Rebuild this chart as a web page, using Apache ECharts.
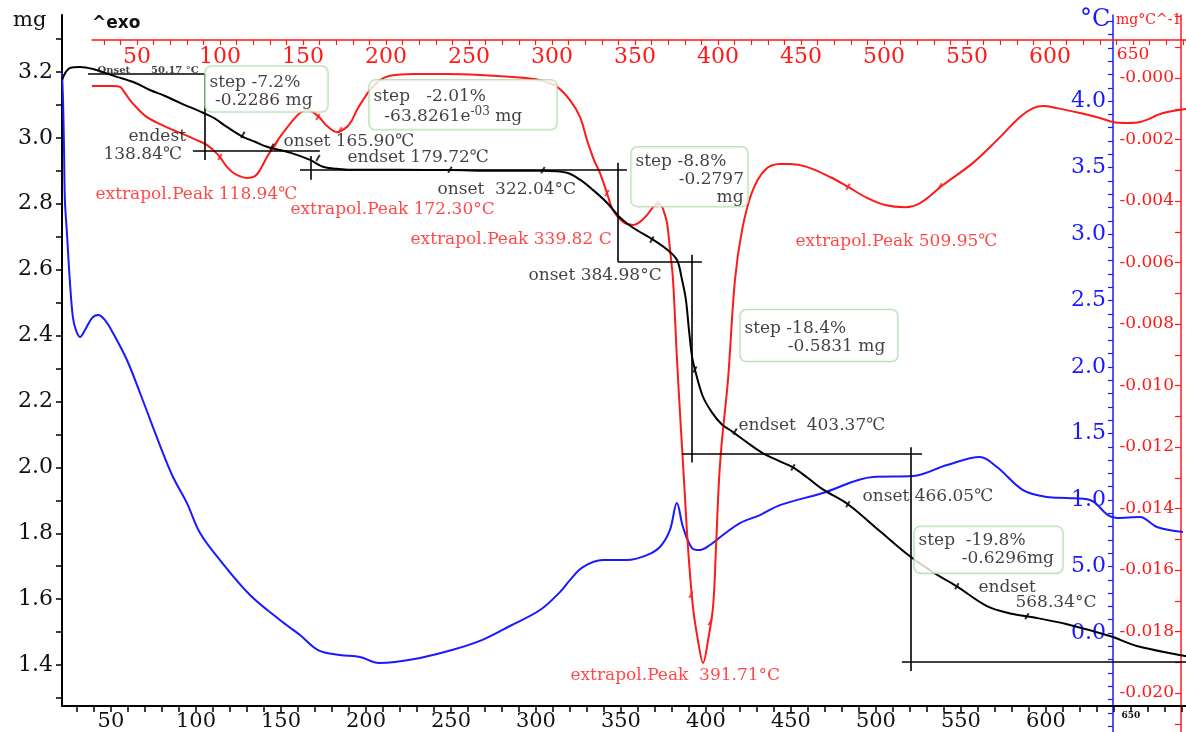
<!DOCTYPE html>
<html><head><meta charset="utf-8">
<script src="https://cdn.jsdelivr.net/npm/echarts@6/dist/echarts.min.js"></script>
<style>html,body{margin:0;padding:0;background:#fff}#c{width:1186px;height:732px}</style>
</head><body><div id="c"></div>
<script>
// ---------- DATA ----------
// TG curve: [temperature °C (bottom axis), mass mg]
const tgCurve = [[21.2,3.176],[23.5,3.200],[25.9,3.212],[31.8,3.215],[39.4,3.209],[46.5,3.197],[53.5,3.185],[64.1,3.167],[72.9,3.145],[81.8,3.127],[90.6,3.106],[104.1,3.076],[111.2,3.058],[118.2,3.033],[127.6,3.003],[134.7,2.988],[141.8,2.973],[155.3,2.955],[167.1,2.933],[174.7,2.912],[183.0,2.906],[190.6,2.903],[220.0,2.903],[249.4,2.902],[278.8,2.900],[304.1,2.900],[318.2,2.894],[325.9,2.873],[333.5,2.842],[341.8,2.803],[349.4,2.758],[357.1,2.727],[368.8,2.691],[377.1,2.661],[382.9,2.630],[385.9,2.570],[388.2,2.509],[390.0,2.418],[391.8,2.336],[393.5,2.297],[398.2,2.215],[403.5,2.167],[409.4,2.130],[415.3,2.109],[424.1,2.076],[432.9,2.045],[443.5,2.018],[451.2,2.000],[459.4,1.970],[468.8,1.933],[483.5,1.888],[502.4,1.806],[520.0,1.730],[533.5,1.682],[547.6,1.639],[565.3,1.579],[580.6,1.555],[592.4,1.545],[612.4,1.524],[637.6,1.488],[653.5,1.458],[682.4,1.427]];
// DTG curve: [temperature °C (top axis), mg/°C]
const dtgCurve = [[22.9,-0.00026],[35.5,-0.00026],[39.8,-0.00029],[42.8,-0.00049],[45.8,-0.00072],[50.6,-0.00101],[56.0,-0.00127],[63.9,-0.00150],[71.7,-0.00169],[78.9,-0.00185],[86.1,-0.00202],[92.2,-0.00218],[95.8,-0.00234],[100.0,-0.00257],[104.2,-0.00289],[109.0,-0.00312],[116.3,-0.00325],[121.1,-0.00319],[124.1,-0.00299],[128.3,-0.00257],[132.5,-0.00221],[136.1,-0.00192],[144.0,-0.00137],[148.2,-0.00114],[152.4,-0.00104],[156.0,-0.00111],[160.2,-0.00130],[164.5,-0.00156],[170.5,-0.00176],[176.5,-0.00159],[179.5,-0.00137],[182.5,-0.00104],[186.1,-0.00072],[190.4,-0.00039],[196.4,-0.00007],[202.4,0.00007],[216.3,0.00013],[236.7,0.00013],[256.6,0.00010],[276.5,0.00003],[292.8,-0.00007],[303.0,-0.00029],[310.8,-0.00072],[316.9,-0.00127],[321.1,-0.00202],[325.3,-0.00267],[328.9,-0.00309],[333.1,-0.00374],[336.7,-0.00429],[342.8,-0.00468],[348.8,-0.00478],[353.0,-0.00468],[357.2,-0.00446],[360.8,-0.00420],[363.3,-0.00410],[365.7,-0.00413],[367.5,-0.00436],[369.3,-0.00472],[371.1,-0.00559],[372.9,-0.00657],[375.3,-0.00917],[377.7,-0.01145],[379.5,-0.01307],[381.9,-0.01525],[384.9,-0.01720],[387.9,-0.01828],[391.0,-0.01902],[394.0,-0.01828],[397.0,-0.01720],[398.8,-0.01525],[400.6,-0.01307],[402.4,-0.01177],[406.0,-0.00982],[410.2,-0.00657],[414.5,-0.00494],[420.5,-0.00371],[428.3,-0.00299],[437.3,-0.00280],[443.4,-0.00280],[453.6,-0.00289],[467.5,-0.00322],[478.3,-0.00354],[489.8,-0.00390],[500.6,-0.00413],[512.7,-0.00420],[521.7,-0.00407],[535.5,-0.00348],[553.6,-0.00276],[568.1,-0.00202],[581.9,-0.00127],[589.8,-0.00098],[595.8,-0.00091],[604.2,-0.00098],[618.1,-0.00114],[630.1,-0.00130],[638.0,-0.00143],[646.4,-0.00146],[654.2,-0.00143],[668.1,-0.00114],[681.9,-0.00101]];
// Blue curve: [temperature °C (bottom axis), °C]
const blueCurve = [[21.2,4.211],[21.8,4.008],[22.4,3.632],[22.9,3.256],[24.1,3.008],[25.9,2.632],[27.6,2.376],[29.4,2.278],[31.8,2.226],[34.7,2.278],[38.8,2.368],[42.4,2.391],[46.5,2.353],[51.2,2.256],[59.4,2.053],[67.1,1.805],[74.7,1.549],[80.6,1.353],[86.5,1.173],[94.7,0.977],[102.4,0.752],[114.1,0.549],[131.8,0.286],[149.4,0.098],[161.2,-0.015],[171.8,-0.128],[184.7,-0.165],[196.5,-0.180],[207.6,-0.226],[217.1,-0.218],[231.8,-0.188],[250.6,-0.128],[268.2,-0.053],[284.7,0.053],[302.4,0.173],[314.1,0.308],[320.0,0.398],[327.6,0.496],[339.4,0.549],[353.5,0.549],[365.3,0.586],[372.9,0.647],[378.8,0.774],[382.9,0.977],[386.5,0.797],[391.8,0.639],[396.5,0.624],[402.4,0.662],[410.0,0.737],[420.0,0.827],[431.8,0.887],[443.5,0.962],[468.8,1.053],[498.2,1.173],[521.8,1.180],[541.8,1.263],[561.2,1.323],[571.2,1.248],[586.5,1.075],[600.6,1.023],[612.4,1.015],[625.9,1.000],[636.5,0.887],[641.8,0.865],[655.3,0.872],[665.3,0.797],[680.6,0.759]];
// Evaluation tick marks drawn on the curves
const tgMarks = [[127.6,3.009],[144.7,2.973],[171.8,2.939],[249.4,2.903],[304.1,2.902],[368.2,2.691],[393.5,2.297],[417.1,2.109],[451.2,2.000],[483.5,1.888],[547.6,1.639],[588.8,1.548]];
const dtgMarks = [[100.0,-0.00257],[133.7,-0.00215],[159.0,-0.00127],[172.3,-0.00170],[333.1,-0.00374],[363.3,-0.00410],[383.7,-0.01680],[395.2,-0.01770],[478.3,-0.00354],[533.7,-0.00352]];
// Step evaluation construction lines: [[T1,mg1],[T2,mg2]]
const stepLines = [
  [[36.5,3.194],[105.3,3.194]],
  [[105.3,3.194],[105.3,2.933]],
  [[98.2,2.961],[172.9,2.961]],
  [[167.6,2.945],[167.6,2.873]],
  [[161.2,2.903],[353.5,2.903]],
  [[348.2,2.924],[348.2,2.624]],
  [[348.2,2.624],[397.6,2.624]],
  [[391.8,2.645],[391.8,2.015]],
  [[385.9,2.042],[527.1,2.042]],
  [[520.6,2.061],[520.6,1.382]],
  [[515.3,1.409],[682.4,1.409]]
];
// Annotations anchored at [T, mg]
const blackNotes = [
  [60.0,3.003,'endest'],[45.3,2.948,'138.84℃'],[151.2,2.988,'onset 165.90℃'],
  [188.8,2.939,'endset 179.72℃'],[241.8,2.842,'onset  322.04°C'],[295.3,2.582,'onset 384.98°C'],
  [418.8,2.127,'endset  403.37℃'],[491.8,1.912,'onset 466.05℃'],[560.0,1.636,'endset'],[581.8,1.591,'568.34°C']
];
const smallNotes = [[41.8,3.206,'Onset      50.17 °C']];
const peakNotes = [
  [40.6,2.827,'extrapol.Peak 118.94℃'],[155.3,2.782,'extrapol.Peak 172.30°C'],
  [225.9,2.691,'extrapol.Peak 339.82 C'],[452.4,2.685,'extrapol.Peak 509.95℃'],
  [320.0,1.367,'extrapol.Peak  391.71°C']
];
const stepBoxes = [
  [105.9,3.215,'step -7.2%\n -0.2286 mg'],
  [202.4,3.173,'{t|step   -2.01%}\n{t|  -63.8261e}{sup|-03}{t| mg}'],
  [356.5,2.970,'step -8.8%\n        -0.2797\n               mg'],
  [420.6,2.476,'step -18.4%\n        -0.5831 mg'],
  [523.0,1.818,'step  -19.8%\n        -0.6296mg']
];
// Tick labels
const massTickLabels = ['1.4','1.6','1.8','2.0','2.2','2.4','2.6','2.8','3.0','3.2'];
const tempTickLabels = ['50','100','150','200','250','300','350','400','450','500','550','600','650'];
const blueTickValues = [0,0.5,1,1.5,2,2.5,3,3.5,4];
const blueTickLabels = ['0.0','5.0','1.0','1.5','2.0','2.5','3.0','3.5','4.0'];
const dtgTickValues = [0,-0.002,-0.004,-0.006,-0.008,-0.010,-0.012,-0.014,-0.016,-0.018,-0.020];
const dtgTickLabels = ['-0.000','-0.002','-0.004','-0.006','-0.008','-0.010','-0.012','-0.014','-0.016','-0.018','-0.020'];

// ---------- STYLE / LAYOUT ----------
const SERIF = 'DejaVu Serif';
const RED = '#ff1a1a', BLUE = '#1a1aff', BLACK = '#111';
// [content width, content height, padding top, padding bottom]
const boxStyles = [[114,36,7,2],[179,40,6,3],[108,54,5,0],[149,36,10,5],[140,36,5,5]];

function tempFmt(){
  return v => {
    const r = Math.round(v);
    if (Math.abs(v - r) > 1e-6) return '';
    const s = String(r);
    if (tempTickLabels.indexOf(s) < 0) return '';
    return s === '650' ? '{s|650}' : s;
  };
}
function lookup(vals, labels){
  return v => { const i = vals.findIndex(t => Math.abs(t - v) < 1e-9); return i < 0 ? '' : labels[i]; };
}

const chart = echarts.init(document.getElementById('c'), null, {renderer:'canvas'});
chart.setOption({
  animation:false,
  backgroundColor:'#fff',
  title:[
    {text:'mg', left:13, top:10, padding:0, textStyle:{fontFamily:SERIF, fontSize:21, fontWeight:'normal', color:BLACK}},
    {text:'^exo', left:92, top:15, padding:0, textStyle:{fontFamily:'DejaVu Sans', fontSize:17, fontWeight:'bold', color:BLACK}},
    {text:'°C', left:1080, top:8, padding:0, textStyle:{fontFamily:SERIF, fontSize:24, fontWeight:'normal', color:BLUE}},
    {text:'mg°C^-1', left:1116, top:13, padding:0, textStyle:{fontFamily:SERIF, fontSize:14, fontWeight:'normal', color:RED}}
  ],
  grid:[
    {left:62, right:0, top:15, bottom:25},
    {left:62, right:0, top:15, bottom:0},
    {left:92, right:0, top:15, bottom:0}
  ],
  xAxis:[
    {gridIndex:0, type:'value', position:'bottom', min:21.2, max:682.4, minInterval:10, maxInterval:10,
     axisLine:{onZero:false, lineStyle:{color:'#000', width:2}}, axisTick:{length:6, lineStyle:{color:'#000', width:1.5}},
     splitLine:{show:false},
     axisLabel:{interval:0, margin:5, formatter:tempFmt(), fontFamily:SERIF, fontSize:21, color:BLACK,
       showMinLabel:false, showMaxLabel:false, rich:{s:{fontFamily:SERIF, fontSize:9, fontWeight:'bold', color:BLACK}}}},
    {gridIndex:1, type:'value', show:false, min:21.2, max:682.4, axisLine:{onZero:false}},
    {gridIndex:2, type:'value', position:'top', offset:-25, min:22.9, max:681.9, minInterval:10, maxInterval:10,
     axisLine:{onZero:false, lineStyle:{color:RED, width:1.5}}, axisTick:{inside:true, length:5, lineStyle:{color:RED, width:1.2}},
     splitLine:{show:false},
     axisLabel:{inside:true, interval:0, margin:6, formatter:tempFmt(), fontFamily:SERIF, fontSize:22, color:RED,
       showMinLabel:false, showMaxLabel:false, rich:{s:{fontFamily:SERIF, fontSize:17, color:RED}}}}
  ],
  yAxis:[
    {gridIndex:0, type:'value', position:'left', min:1.2758, max:3.3727, minInterval:0.1, maxInterval:0.1,
     axisLine:{show:true, onZero:false, lineStyle:{color:'#000', width:2}}, axisTick:{show:true, length:6, lineStyle:{color:'#000', width:1.5}},
     splitLine:{show:false},
     axisLabel:{interval:0, margin:9, showMinLabel:false, showMaxLabel:false, fontFamily:SERIF, fontSize:22, color:BLACK,
       formatter:v => { const s = v.toFixed(1); return (Math.abs(v*10 - Math.round(v*10)) < 1e-6 && massTickLabels.indexOf(s) >= 0) ? s : ''; }}},
    {gridIndex:1, type:'value', position:'left', offset:-1051, min:-0.744, max:4.647, minInterval:0.1, maxInterval:0.1,
     axisLine:{show:true, onZero:false, lineStyle:{color:BLUE, width:1.5}}, axisTick:{show:true, length:5, lineStyle:{color:BLUE, width:1.2}},
     splitLine:{show:false},
     axisLabel:{interval:0, margin:7, showMinLabel:false, showMaxLabel:false, fontFamily:SERIF, fontSize:22, color:BLUE,
       formatter:lookup(blueTickValues, blueTickLabels)}},
    {gridIndex:2, type:'value', position:'left', offset:-1089, min:-0.021268, max:0.002049, minInterval:0.001, maxInterval:0.001,
     axisLine:{show:true, onZero:false, lineStyle:{color:RED, width:1.5}}, axisTick:{show:true, length:6, lineStyle:{color:RED, width:1.2}},
     splitLine:{show:false},
     axisLabel:{interval:0, margin:7, showMinLabel:false, showMaxLabel:false, fontFamily:SERIF, fontSize:17, color:RED,
       formatter:lookup(dtgTickValues, dtgTickLabels)}}
  ],
  series:[
    {type:'line', name:'blue', xAxisIndex:1, yAxisIndex:1, data:blueCurve, showSymbol:false, smooth:0.35,
     lineStyle:{color:BLUE, width:2}, z:2, silent:true},
    {type:'line', name:'DTG', xAxisIndex:2, yAxisIndex:2, data:dtgCurve, showSymbol:false, smooth:0.35,
     lineStyle:{color:RED, width:2}, z:3, silent:true},
    {type:'line', name:'TG', xAxisIndex:0, yAxisIndex:0, data:tgCurve, showSymbol:false, smooth:0.35,
     lineStyle:{color:'#000', width:2}, z:4, silent:true},
    {type:'scatter', xAxisIndex:0, yAxisIndex:0, data:tgMarks, symbol:'rect', symbolSize:[2,7], symbolRotate:-30,
     itemStyle:{color:'#000'}, z:5, silent:true},
    {type:'scatter', xAxisIndex:2, yAxisIndex:2, data:dtgMarks, symbol:'rect', symbolSize:[2,7], symbolRotate:-30,
     itemStyle:{color:RED}, z:5, silent:true},
    {type:'lines', coordinateSystem:'cartesian2d', xAxisIndex:0, yAxisIndex:0, silent:true, z:4,
     data:stepLines.map(s => ({coords:s})), lineStyle:{color:'#000', width:1.6, opacity:1, curveness:0}},
    {type:'scatter', xAxisIndex:0, yAxisIndex:0, symbolSize:1, itemStyle:{color:'rgba(0,0,0,0)'}, silent:true, z:6,
     data:blackNotes.map(n => ({value:[n[0], n[1]], name:n[2]})),
     label:{show:true, position:'right', distance:0, formatter:'{b}', fontFamily:SERIF, fontSize:17, color:BLACK}},
    {type:'scatter', xAxisIndex:0, yAxisIndex:0, symbolSize:1, itemStyle:{color:'rgba(0,0,0,0)'}, silent:true, z:6,
     data:smallNotes.map(n => ({value:[n[0], n[1]], name:n[2]})),
     label:{show:true, position:'right', distance:0, formatter:'{b}', fontFamily:SERIF, fontSize:10, fontWeight:'bold', color:BLACK}},
    {type:'scatter', xAxisIndex:0, yAxisIndex:0, symbolSize:1, itemStyle:{color:'rgba(0,0,0,0)'}, silent:true, z:6,
     data:peakNotes.map(n => ({value:[n[0], n[1]], name:n[2]})),
     label:{show:true, position:'right', distance:0, formatter:'{b}', fontFamily:SERIF, fontSize:17, color:RED}},
    {type:'scatter', xAxisIndex:0, yAxisIndex:0, symbolSize:1, itemStyle:{color:'rgba(0,0,0,0)'}, silent:true, z:7,
     data:stepBoxes.map((n, i) => ({value:[n[0], n[1]], name:n[2],
       label:{width:boxStyles[i][0], height:boxStyles[i][1], padding:[boxStyles[i][2],4,boxStyles[i][3],4]}})),
     label:{show:true, position:[0,0], align:'left', verticalAlign:'top', formatter:'{b}', fontFamily:SERIF, fontSize:17,
       lineHeight:18, color:BLACK, backgroundColor:'#fff', borderColor:'#a9d9a9', borderWidth:1.3, borderRadius:6,
       rich:{t:{fontFamily:SERIF, fontSize:17, lineHeight:20, color:BLACK},
             sup:{fontFamily:SERIF, fontSize:12, lineHeight:20, verticalAlign:'top', color:BLACK}}}}
  ]
});
</script></body></html>
